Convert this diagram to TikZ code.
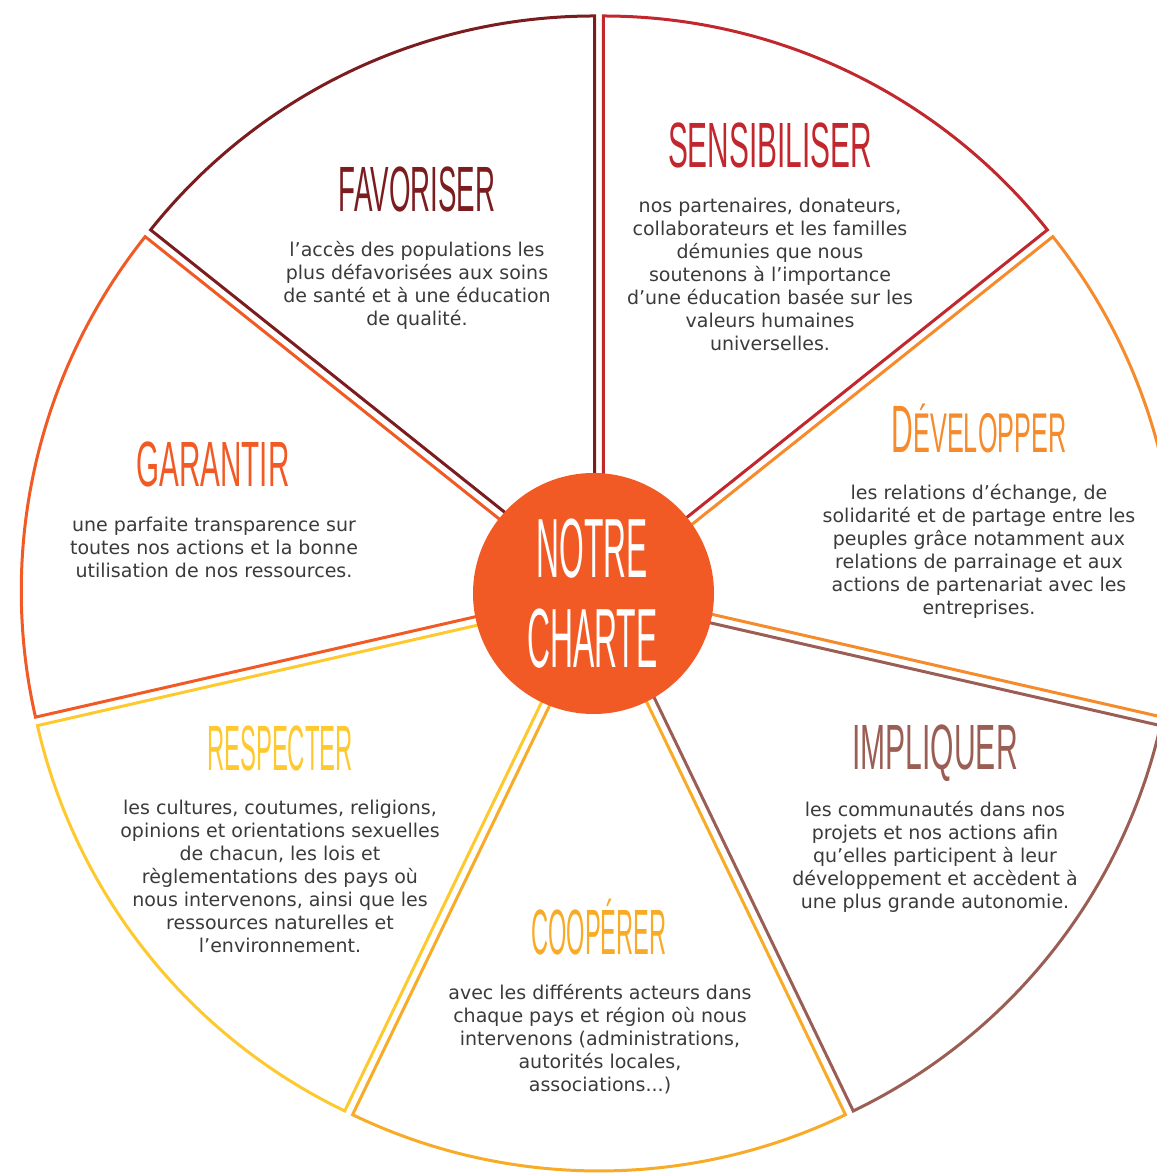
\documentclass[tikz,border=0pt]{standalone}
\usepackage{fontspec}
\usepackage{graphicx}
\usetikzlibrary{calc}
\setmainfont{DejaVu Sans}
\newfontfamily\titlefont{Liberation Sans}
\definecolor{favc}{HTML}{7B1C1F}
\definecolor{sensc}{HTML}{C1272D}
\definecolor{devc}{HTML}{F68B2C}
\definecolor{impc}{HTML}{9B5E55}
\definecolor{coopc}{HTML}{F8AB26}
\definecolor{respc}{HTML}{FEC92F}
\definecolor{garc}{HTML}{F15A24}
\definecolor{txt}{HTML}{3A3A3A}
\newcommand{\ttl}[2]{\scalebox{#1}[1]{#2}}
\tikzset{
  wedge/.style={line width=3pt, line join=miter},
  title/.style={anchor=base, inner sep=0pt, font=\titlefont\fontsize{64}{64}\selectfont},
  body/.style={anchor=base, inner sep=0pt, text=txt, font=\fontsize{19}{22.9}\selectfont},
  ctitle/.style={anchor=base, inner sep=0pt, text=white, font=\titlefont\fontsize{84}{84}\selectfont}
}
\begin{document}
\begin{tikzpicture}[x=1pt,y=1pt]
\useasboundingbox (0,0) rectangle (1157,1176);
\clip (0,0) rectangle (1157,1176);
\coordinate (C) at (599,583);
\foreach \i/\col in {0/favc,1/garc,2/respc,3/coopc,4/impc,5/devc,6/sensc} {
  \pgfmathsetmacro\a{90+360/7*\i}
  \pgfmathsetmacro\b{\a+360/7}
  \pgfmathsetmacro\m{\a+180/7}
  \draw[wedge, draw=\col] ($(C)+(\m:10)$) coordinate (A\i) -- ++(\a:568) arc[start angle=\a, end angle=\b, radius=568pt] -- cycle;
}
\node[circle, fill=garc, minimum size=241pt, inner sep=0pt] (ctr) at (593.5,582.5) {};
\node[ctitle] (notre) at (592.5,598) {\ttl{0.378}{NOTRE}};
\node[ctitle] (charte) at (592.5,508) {\ttl{0.379}{CHARTE}};

\node[title, text=favc] (tfav) at (417,964) {\ttl{0.433}{FAVORISER}};
\node[body] (bfav) at (417,919) {\begin{tabular}[t]{@{}c@{}}l’accès des populations les\\plus défavorisées aux soins\\de santé et à une éducation\\de qualité.\end{tabular}};

\node[title, text=sensc] (tsens) at (770,1008) {\ttl{0.466}{SENSIBILISER}};
\node[body] (bsens) at (770,963) {\begin{tabular}[t]{@{}c@{}}nos partenaires, donateurs,\\collaborateurs et les familles\\démunies que nous\\soutenons à l’importance\\d’une éducation basée sur les\\valeurs humaines\\universelles.\end{tabular}};

\node[title, text=devc] (tdev) at (979,723) {\ttl{0.45}{\fontsize{67}{67}\selectfont D\fontsize{56}{56}\selectfont ÉVELOPPER}};
\node[body] (bdev) at (979,676) {\begin{tabular}[t]{@{}c@{}}les relations d’échange, de\\solidarité et de partage entre les\\peuples grâce notamment aux\\relations de parrainage et aux\\actions de partenariat avec les\\entreprises.\end{tabular}};

\node[title, text=garc] (tgar) at (213,689) {\ttl{0.463}{GARANTIR}};
\node[body] (bgar) at (214,644) {\begin{tabular}[t]{@{}c@{}}une parfaite transparence sur\\toutes nos actions et la bonne\\utilisation de nos ressources.\end{tabular}};

\node[title, text=impc] (timp) at (935,406) {\ttl{0.47}{IMPLIQUER}};
\node[body] (bimp) at (935,359) {\begin{tabular}[t]{@{}c@{}}les communautés dans nos\\projets et nos actions afin\\qu’elles participent à leur\\développement et accèdent à\\une plus grande autonomie.\end{tabular}};

\node[title, text=respc] (tresp) at (280,405) {\ttl{0.373}{RESPECTER}};
\node[body] (bresp) at (280,361) {\begin{tabular}[t]{@{}c@{}}les cultures, coutumes, religions,\\opinions et orientations sexuelles\\de chacun, les lois et\\règlementations des pays où\\nous intervenons, ainsi que les\\ressources naturelles et\\l’environnement.\end{tabular}};

\node[title, text=coopc] (tcoop) at (599,221) {\ttl{0.369}{COOPÉRER}};
\node[body] (bcoop) at (600,176) {\begin{tabular}[t]{@{}c@{}}avec les différents acteurs dans\\chaque pays et région où nous\\intervenons (administrations,\\autorités locales,\\associations...)\end{tabular}};
\end{tikzpicture}
\end{document}
